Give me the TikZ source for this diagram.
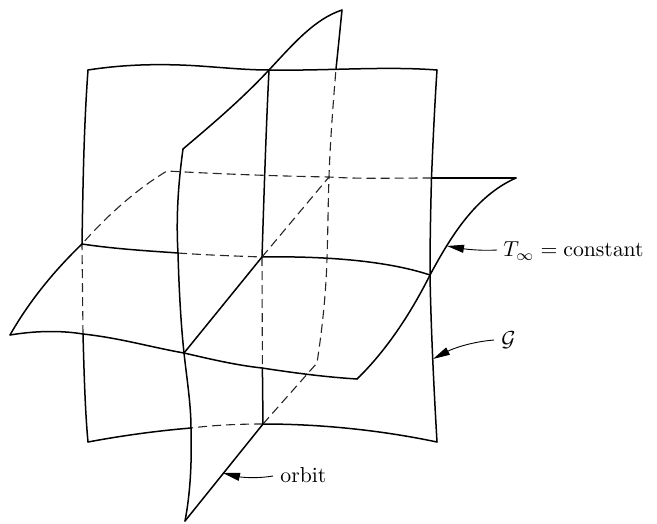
\documentclass[tikz,border=0pt]{standalone}
\usetikzlibrary{arrows.meta}
\tikzset{
  solidedge/.style={line width=1.5pt,line join=round,line cap=round,black},
  hidden/.style={line width=1.1pt,dash pattern=on 9pt off 5pt,black!85},
  pointer/.style={line width=0.9pt,-{Triangle[length=17pt,width=8pt]},black},
  lab/.style={scale=2.17,inner sep=0pt,anchor=west}
}
\begin{document}
\begin{tikzpicture}[x=1pt,y=-1pt]
\useasboundingbox (0,0) rectangle (657,523);
% G sheet
\draw[solidedge] (88,70) .. controls (120,65) and (150,64) .. (180,65) .. controls (210,66) and (240,70) .. (269,70) .. controls (325,71) and (385,66) .. (437,70);
\draw[solidedge] (437,70) .. controls (435,100) and (433,140) .. (431.5,178) .. controls (430.5,215) and (430,245) .. (430,275) .. controls (431,330) and (434,390) .. (437,442);
\draw[solidedge] (437,442) .. controls (380,430) and (320,424) .. (263,424);
\draw[hidden] (263,424) .. controls (240,424) and (215,425) .. (191,428);
\draw[solidedge] (191,428) .. controls (155,431) and (120,436) .. (88,442);
\draw[solidedge] (88,442) .. controls (85,410) and (84,370) .. (83,334);
\draw[hidden] (83,334) -- (82,244);
\draw[solidedge] (82,244) .. controls (83,180) and (84,125) .. (88,70);
% horizontal sheet
\draw[solidedge] (82,244) .. controls (55,270) and (30,300) .. (10,335);
\draw[solidedge] (10,335) .. controls (40,330) and (65,331) .. (83,334) .. controls (120,338) and (150,347) .. (184,353) .. controls (210,359) and (235,365) .. (262,368) .. controls (295,373) and (325,377) .. (357,379);
\draw[solidedge] (357,379) .. controls (385,352) and (410,315) .. (430,275) .. controls (450,238) and (475,196) .. (516,178);
\draw[solidedge] (516,178) -- (431.5,178);
\draw[hidden] (431.5,178) .. controls (390,178) and (360,179) .. (329,177) .. controls (275,176) and (220,174) .. (167,171) .. controls (135,190) and (105,218) .. (82,244);
\draw[solidedge] (82,244) .. controls (115,249) and (150,251) .. (178,253);
\draw[hidden] (178,253) .. controls (205,255) and (235,256) .. (262,257);
\draw[solidedge] (262,257) .. controls (320,256) and (385,260) .. (430,275);
% vertical sheet
\draw[solidedge] (342,10) .. controls (315,19) and (295,42) .. (269,70) .. controls (240,101) and (210,126) .. (183,149);
\draw[solidedge] (183,149) .. controls (178,185) and (176,220) .. (178,253) .. controls (179,290) and (181,325) .. (184,353) .. controls (187,380) and (191,405) .. (191,428) .. controls (192,465) and (190,495) .. (185,521);
\draw[solidedge] (185,521) -- (263,424);
\draw[hidden] (263,424) -- (317,363) .. controls (322,330) and (326,295) .. (327,258) .. controls (328,230) and (328,205) .. (329,177) .. controls (330,145) and (333,105) .. (336,69);
\draw[solidedge] (336,69) .. controls (338,50) and (340,30) .. (342,10);
\draw[solidedge] (269,70) .. controls (266,130) and (264,195) .. (262,257);
\draw[hidden] (262,257) -- (262.4,368);
\draw[solidedge] (262.4,368) -- (263,424);
\draw[solidedge] (184,353) -- (262,257);
\draw[hidden] (262,257) -- (329,177);
% labels
\coordinate (tipT) at (447,246);
\coordinate (tipG) at (433,359);
\coordinate (tipO) at (223,473);
\node[lab] (lT) at (503,251) {$T_\infty=\mathrm{constant}$};
\node[lab] (lG) at (501,340) {$\mathcal{G}$};
\node[lab] (lO) at (280,475) {orbit};
\draw[pointer] (lT.west) ++(-6,-1) .. controls (480,251) and (465,249) .. (tipT);
\draw[pointer] (lG.west) ++(-7,0) .. controls (470,342) and (452,349) .. (tipG);
\draw[pointer] (lO.west) ++(-7,1) .. controls (255,479) and (240,477) .. (tipO);
\end{tikzpicture}
\end{document}
